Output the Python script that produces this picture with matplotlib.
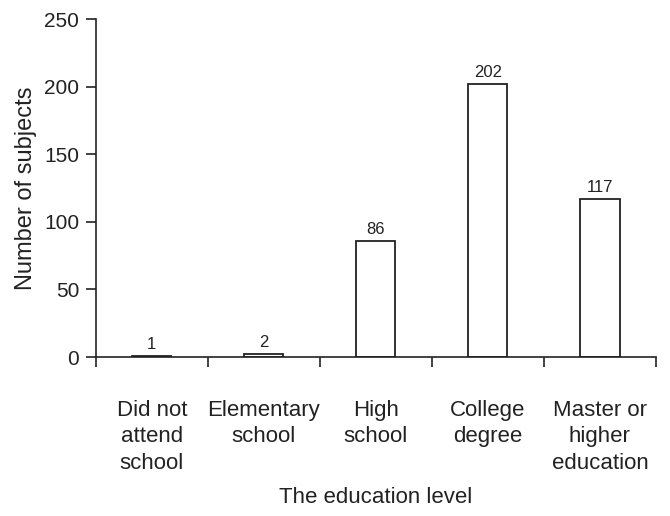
import matplotlib.pyplot as plt
import numpy as np

categories = ["Did not\nattend\nschool", "Elementary\nschool", "High\nschool",
              "College\ndegree", "Master or\nhigher\neducation"]
counts = [1, 2, 86, 202, 117]

plt.rcParams['font.family'] = ['Liberation Sans', 'DejaVu Sans']

fig = plt.figure(figsize=(6.7, 5.16), dpi=100)
ax = fig.add_axes([0.143, 0.308, 0.836, 0.655])

x = np.arange(len(categories))
ax.bar(x, counts, width=0.35, color='white', edgecolor='#222222', linewidth=1.3)

for xi, c in zip(x, counts):
    ax.annotate(str(c), (xi, c), xytext=(0, 3), textcoords='offset points',
                ha='center', va='bottom', fontsize=12, color='#222222')

ax.set_xlim(-0.5, len(categories) - 0.5)
ax.set_ylim(0, 250)
ax.set_yticks([0, 50, 100, 150, 200, 250])

# category labels centered, ticks on the boundaries
ax.set_xticks(x)
ax.set_xticklabels(categories, fontsize=16, linespacing=1.33, color='#222222')
ax.tick_params(axis='x', which='major', length=0, pad=31)
ax.set_xticks(np.arange(-0.5, len(categories)), minor=True)
ax.tick_params(axis='x', which='minor', length=7, width=1.2, direction='out', color='#222222')
ax.tick_params(axis='y', length=7, width=1.2, labelsize=15, labelcolor='#222222',
               color='#222222', pad=5)

for s in ['top', 'right']:
    ax.spines[s].set_visible(False)
for s in ['left', 'bottom']:
    ax.spines[s].set_linewidth(1.2)
    ax.spines[s].set_color('#222222')

ax.set_ylabel("Number of subjects", fontsize=17, color='#222222')
ax.yaxis.set_label_coords(-0.105, 0.5)
ax.set_xlabel("The education level", fontsize=16, color='#222222')
ax.xaxis.set_label_coords(0.5, -0.385)

fig.savefig("out.png", dpi=100)
